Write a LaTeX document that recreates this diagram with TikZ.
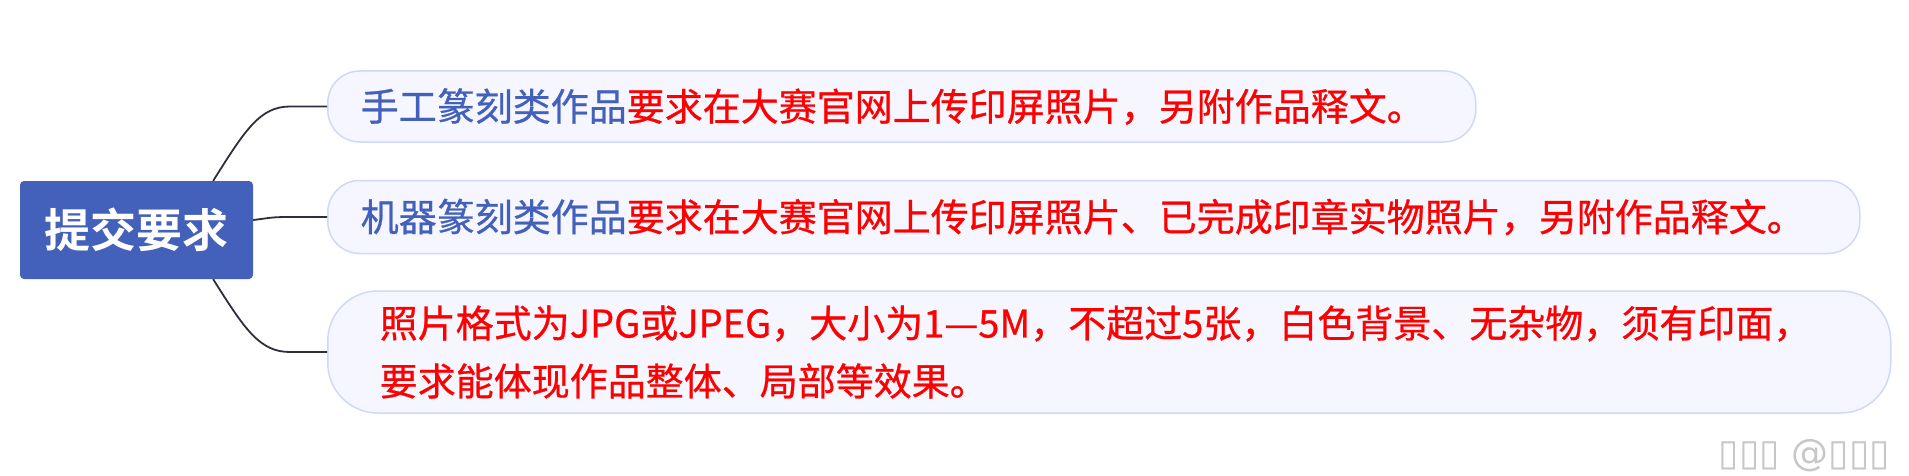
\documentclass[tikz,border=0pt]{standalone}
\usepackage{fontspec}
\newfontfamily\cjk[FakeBold=0.7]{Noto Sans CJK SC}
\newfontfamily\cjkbold{Noto Sans CJK SC Bold}
\newfontfamily\symfont{DejaVu Sans}

\definecolor{mmblue}{RGB}{67,96,186}
\definecolor{mmred}{RGB}{255,0,0}
\definecolor{mmfill}{RGB}{245,246,255}
\definecolor{mmedge}{RGB}{208,216,250}
\definecolor{mmline}{RGB}{46,46,60}

\begin{document}
\begin{tikzpicture}[x=1pt,y=1pt,
  rootbox/.style={fill=mmblue,rounded corners=4pt,minimum width=233pt,minimum height=98pt,
    text=white,font=\cjkbold\fontsize{46}{50}\selectfont},
  reqbox/.style={draw=mmedge,line width=1.5pt,fill=mmfill,anchor=west,align=left,
    inner xsep=33pt,inner ysep=0pt,rounded corners=32pt,text=mmred,
    font=\cjk\fontsize{38}{58}\selectfont},
  branch/.style={draw=mmline,line width=1.8pt}]
\useasboundingbox (0,0) rectangle (1909,475);
% Draw the root topic
\node[rootbox] (root) at (136.5,245) {提交要求};
% Draw the three requirements
\node[reqbox,text width=1082pt,minimum height=71pt] (req1) at (327,368.5)
  {\textcolor{mmblue}{手工篆刻类作品}要求在大赛官网上传印屏照片，另附作品释文。};
\node[reqbox,text width=1466pt,minimum height=73pt] (req2) at (327,258)
  {\textcolor{mmblue}{机器篆刻类作品}要求在大赛官网上传印屏照片、已完成印章实物照片，另附作品释文。};
\node[reqbox,text width=1459pt,inner xsep=52pt,minimum height=122pt,rounded corners=50pt] (req3) at (327,123)
  {照片格式为JPG或JPEG，大小为1—5M，不超过5张，白色背景、无杂物，须有印面，\\
   要求能体现作品整体、局部等效果。};
% Draw the branches
\coordinate (up) at ([xshift=-40pt]root.north east);
\coordinate (down) at ([xshift=-40pt]root.south east);
\draw[branch] (up) .. controls +(32,51) and +(-30,0) .. ([xshift=-37pt]req1.west) -- (req1.west);
\draw[branch] ([yshift=10pt]root.east) .. controls +(17,2) and +(-20,0) .. ([xshift=-37pt]req2.west) -- (req2.west);
\draw[branch] (down) .. controls +(32,-51) and +(-30,0) .. ([xshift=-37pt]req3.west) -- (req3.west);
% Watermark
\node[anchor=south east,inner sep=0pt,text=black!22,font=\symfont\fontsize{37}{40}\selectfont] (mark) at (1890,3) {▯▯▯ @▯▯▯};
\end{tikzpicture}
\end{document}
